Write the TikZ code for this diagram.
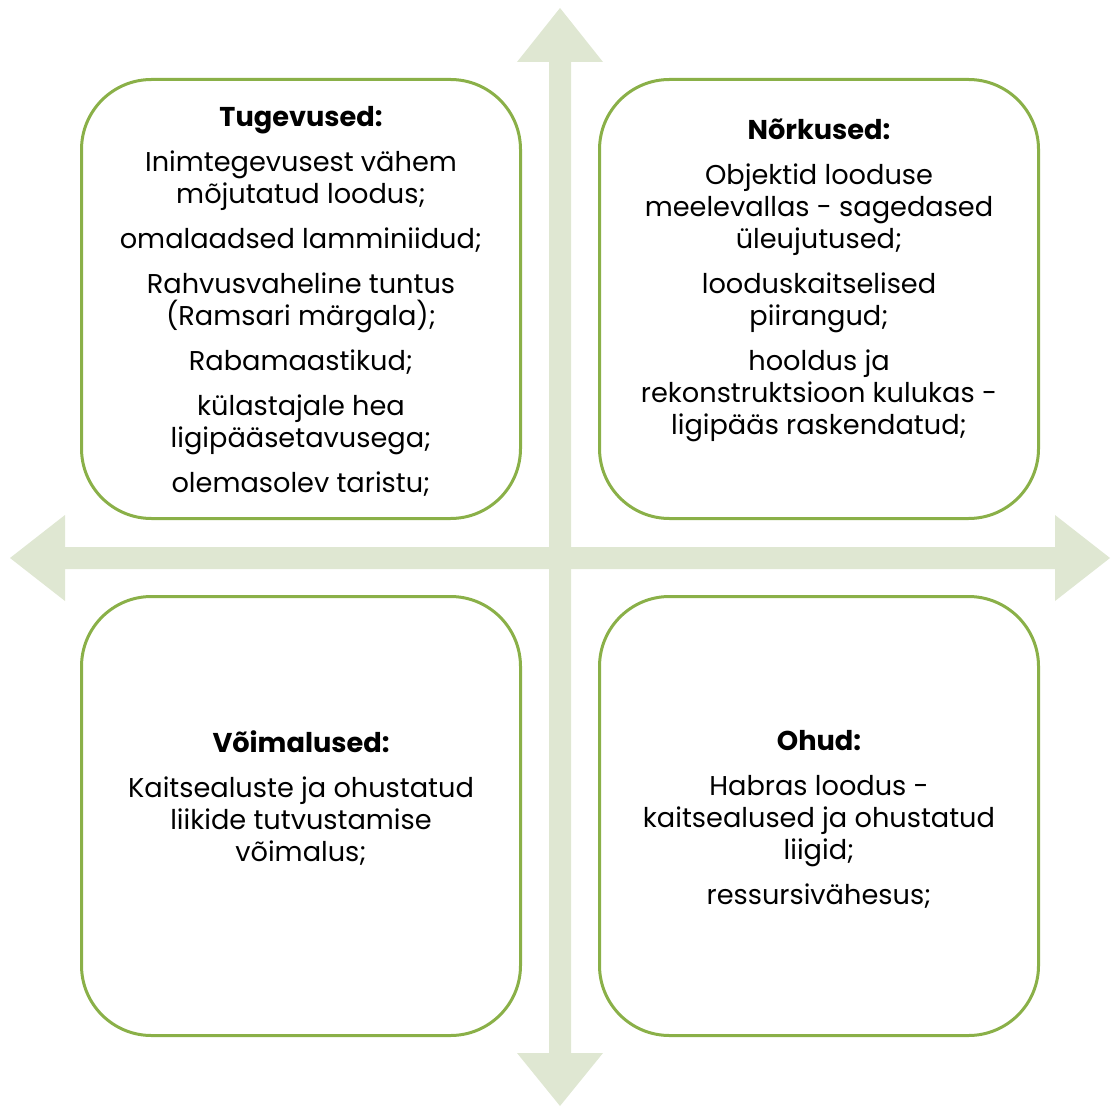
\documentclass[tikz,border=0pt]{standalone}
\usepackage{fontspec}
\setmainfont{Poppins}
\definecolor{axisc}{RGB}{223,231,210}
\definecolor{framec}{RGB}{138,176,72}

\begin{document}
\begin{tikzpicture}[x=0.5pt, y=-0.5pt,
		quad/.style={draw=framec, line width=1.5pt, fill=white, rounded corners=35pt, minimum width=219.5pt, minimum height=219.5pt, inner sep=0pt},
		quadtext/.style={anchor=north, align=center, inner sep=0pt, font=\fontsize{13.6}{16}\selectfont}]
		\useasboundingbox (0,0) rectangle (1111,1106);
		
		% the two double arrows
		\fill[axisc] (560,8) -- (603,62) -- (571,62) -- (571,1053) -- (603,1053) -- (560,1106) -- (517,1053) -- (549,1053) -- (549,62) -- (517,62) -- cycle;
		\fill[axisc] (10,558) -- (65,515) -- (65,547) -- (1055,547) -- (1055,515) -- (1110,558) -- (1055,601) -- (1055,569) -- (65,569) -- (65,601) -- cycle;
		
		\node[quad] (tug) at (301,299) {};
		\node[quad] (nork) at (819,299) {};
		\node[quad] (voim) at (301,816) {};
		\node[quad] (ohud) at (819,816) {};
		
		\node[quadtext] (tugtxt) at (301,106) {\textbf{Tugevused:}\\[6.5pt]
			Inimtegevusest vähem\\ mõjutatud loodus;\\[6.5pt]
			omalaadsed lamminiidud;\\[6.5pt]
			Rahvusvaheline tuntus\\ (Ramsari märgala);\\[6.5pt]
			Rabamaastikud;\\[6.5pt]
			külastajale hea\\ ligipääsetavusega;\\[6.5pt]
			olemasolev taristu;};
		\node[quadtext] (norktxt) at (819,119) {\textbf{Nõrkused:}\\[6.5pt]
			Objektid looduse\\ meelevallas - sagedased\\ üleujutused;\\[6.5pt]
			looduskaitselised\\ piirangud;\\[6.5pt]
			hooldus ja\\ rekonstruktsioon kulukas -\\ ligipääs raskendatud;};
		\node[quadtext] (voimtxt) at (301,730) {\textbf{Võimalused:}\\[6.5pt]
			Kaitsealuste ja ohustatud\\ liikide tutvustamise\\ võimalus;};
		\node[quadtext] (ohudtxt) at (819,730) {\textbf{Ohud:}\\[6.5pt]
			Habras loodus -\\ kaitsealused ja ohustatud\\ liigid;\\[6.5pt]
			ressursivähesus;};
\end{tikzpicture}
\end{document}
